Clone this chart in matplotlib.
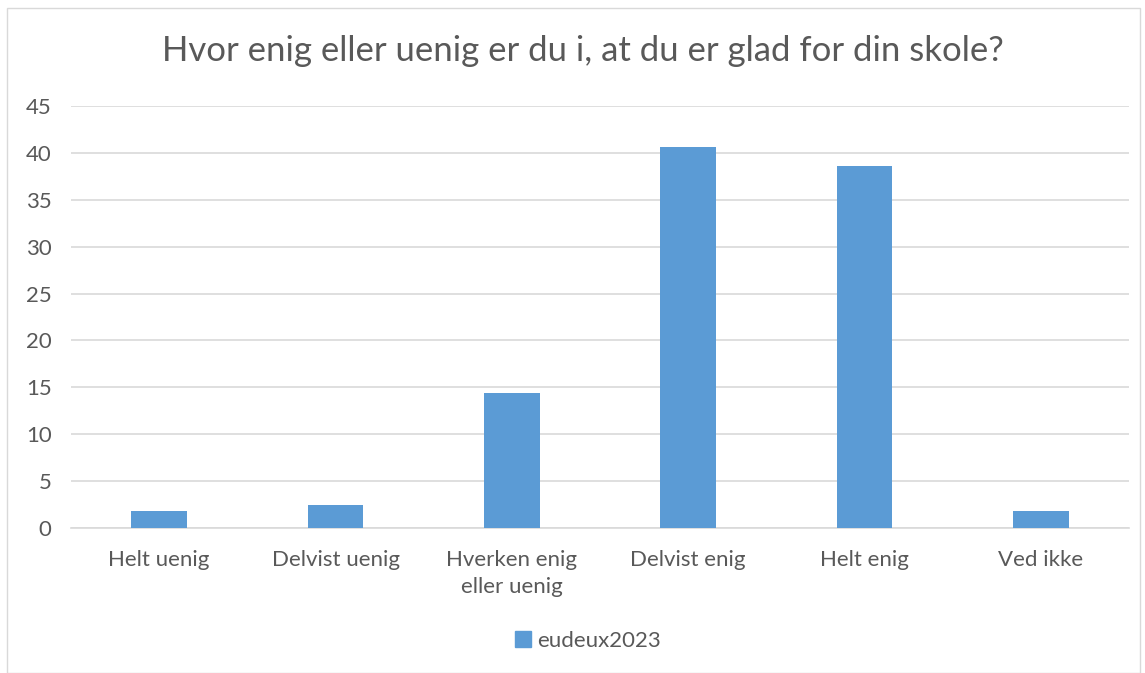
import matplotlib
matplotlib.use("Agg")
import matplotlib.pyplot as plt
from matplotlib.patches import Patch, Rectangle

categories = ["Helt uenig", "Delvist uenig", "Hverken enig\neller uenig", "Delvist enig", "Helt enig", "Ved ikke"]
values = [1.82, 2.5, 14.4, 40.66, 38.63, 1.82]
series_name = "eudeux2023"
y_ticks = [0, 5, 10, 15, 20, 25, 30, 35, 40, 45]

BAR_COLOR = "#5b9bd5"
TEXT_COLOR = "#595959"
GRID_COLOR = "#d9d9d9"

plt.rcParams["font.family"] = ["Lato", "DejaVu Sans"]

fig = plt.figure(figsize=(11.45, 6.73), dpi=100)
fig.patches.append(Rectangle((7 / 1145, 0), 1133 / 1145, 665 / 673, transform=fig.transFigure,
                             fill=False, edgecolor=GRID_COLOR, linewidth=1))

ax = fig.add_axes([71 / 1145, 1 - 528 / 673, 1058 / 1145, 422 / 673])
x = range(len(categories))
ax.bar(x, values, width=0.315, color=BAR_COLOR, zorder=3)

ax.set_xlim(-0.5, len(categories) - 0.5)
ax.set_ylim(0, 45)
ax.set_yticks(y_ticks)
ax.set_xticks(list(x))
ax.set_xticklabels(categories, linespacing=1.45)
ax.yaxis.grid(True, color=GRID_COLOR, linewidth=1.2, zorder=0)
for side in ("top", "right", "left"):
    ax.spines[side].set_visible(False)
ax.spines["bottom"].set_color(GRID_COLOR)
ax.spines["bottom"].set_linewidth(1.2)
ax.tick_params(axis="both", length=0, colors=TEXT_COLOR, labelsize=16)
ax.tick_params(axis="x", pad=16)
ax.tick_params(axis="y", pad=14)

fig.text(0.509, 1 - 51 / 673, "Hvor enig eller uenig er du i, at du er glad for din skole?",
         ha="center", va="center", fontsize=25, color=TEXT_COLOR)

fig.legend(handles=[Patch(color=BAR_COLOR, label=series_name)], loc="center",
           bbox_to_anchor=(588 / 1145, 1 - 641 / 673), frameon=False, fontsize=16,
           handlelength=0.7, handleheight=0.7, handletextpad=0.3, labelcolor=TEXT_COLOR)

fig.savefig("out.png", dpi=100)
